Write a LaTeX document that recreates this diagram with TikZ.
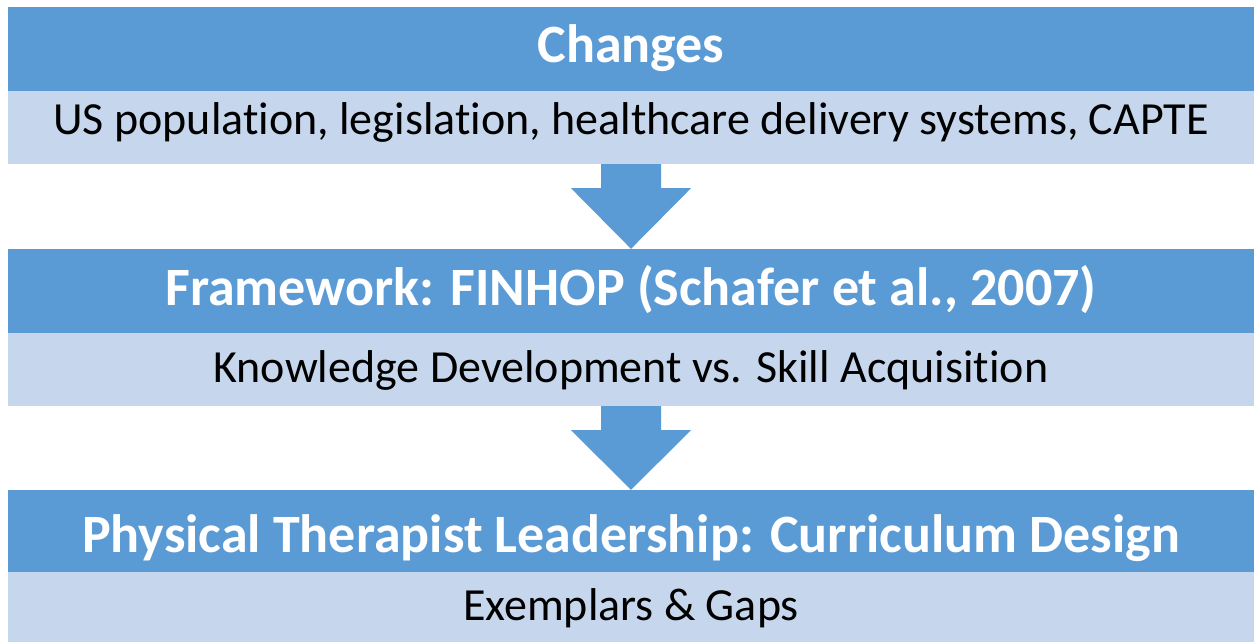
\documentclass[tikz,border=0pt]{standalone}
\usepackage{fontspec}
\setmainfont{Carlito}[Ligatures=NoCommon]
\definecolor{bandDark}{HTML}{5B9BD5}
\definecolor{bandLight}{HTML}{C6D6EC}
\begin{document}
\begin{tikzpicture}[x=1pt,y=-1pt,
  head/.style={fill=bandDark, draw=none, minimum width=1246pt, inner sep=0pt,
    text=white, font=\fontsize{54}{58}\selectfont\bfseries,
    text height=38pt, text depth=10pt},
  body/.style={fill=bandLight, draw=none, minimum width=1246pt, inner sep=0pt,
    text=black, font=\fontsize{46}{50}\selectfont,
    text height=34pt, text depth=20pt},
  downarrow/.style={fill=bandDark, draw=none}]
\useasboundingbox (0,0) rectangle (1257,642);
\fill[white] (0,0) rectangle (1257,642);

\node[head, minimum height=84pt] (h1) at (631,49) {Changes};
\node[body, minimum height=73pt] (b1) at (631,127.5) {US population, legislation, healthcare delivery systems, CAPTE};
\node[head, minimum height=84pt] (h2) at (631,291) {Framework: FINHOP (Schafer et al., 2007)};
\node[body, minimum height=73pt, text height=37pt, text depth=12pt] (b2) at (631,369.5) {Knowledge Development vs. Skill Acquisition};
\node[head, minimum height=82pt, text height=42pt, text depth=0pt] (h3) at (631,531) {Physical Therapist Leadership: Curriculum Design};
\node[body, minimum height=70pt, text height=38pt, text depth=12pt] (b3) at (631,607) {Exemplars \& Gaps};

\fill[downarrow] ([xshift=-30pt]b1.south) -- ([xshift=30pt]b1.south)
  -- ([xshift=30pt,yshift=-24pt]b1.south) -- ([xshift=60pt,yshift=-24pt]b1.south)
  -- (h2.north) -- ([xshift=-60pt,yshift=-24pt]b1.south)
  -- ([xshift=-30pt,yshift=-24pt]b1.south) -- cycle;
\fill[downarrow] ([xshift=-30pt]b2.south) -- ([xshift=30pt]b2.south)
  -- ([xshift=30pt,yshift=-24pt]b2.south) -- ([xshift=60pt,yshift=-24pt]b2.south)
  -- (h3.north) -- ([xshift=-60pt,yshift=-24pt]b2.south)
  -- ([xshift=-30pt,yshift=-24pt]b2.south) -- cycle;
\end{tikzpicture}
\end{document}
